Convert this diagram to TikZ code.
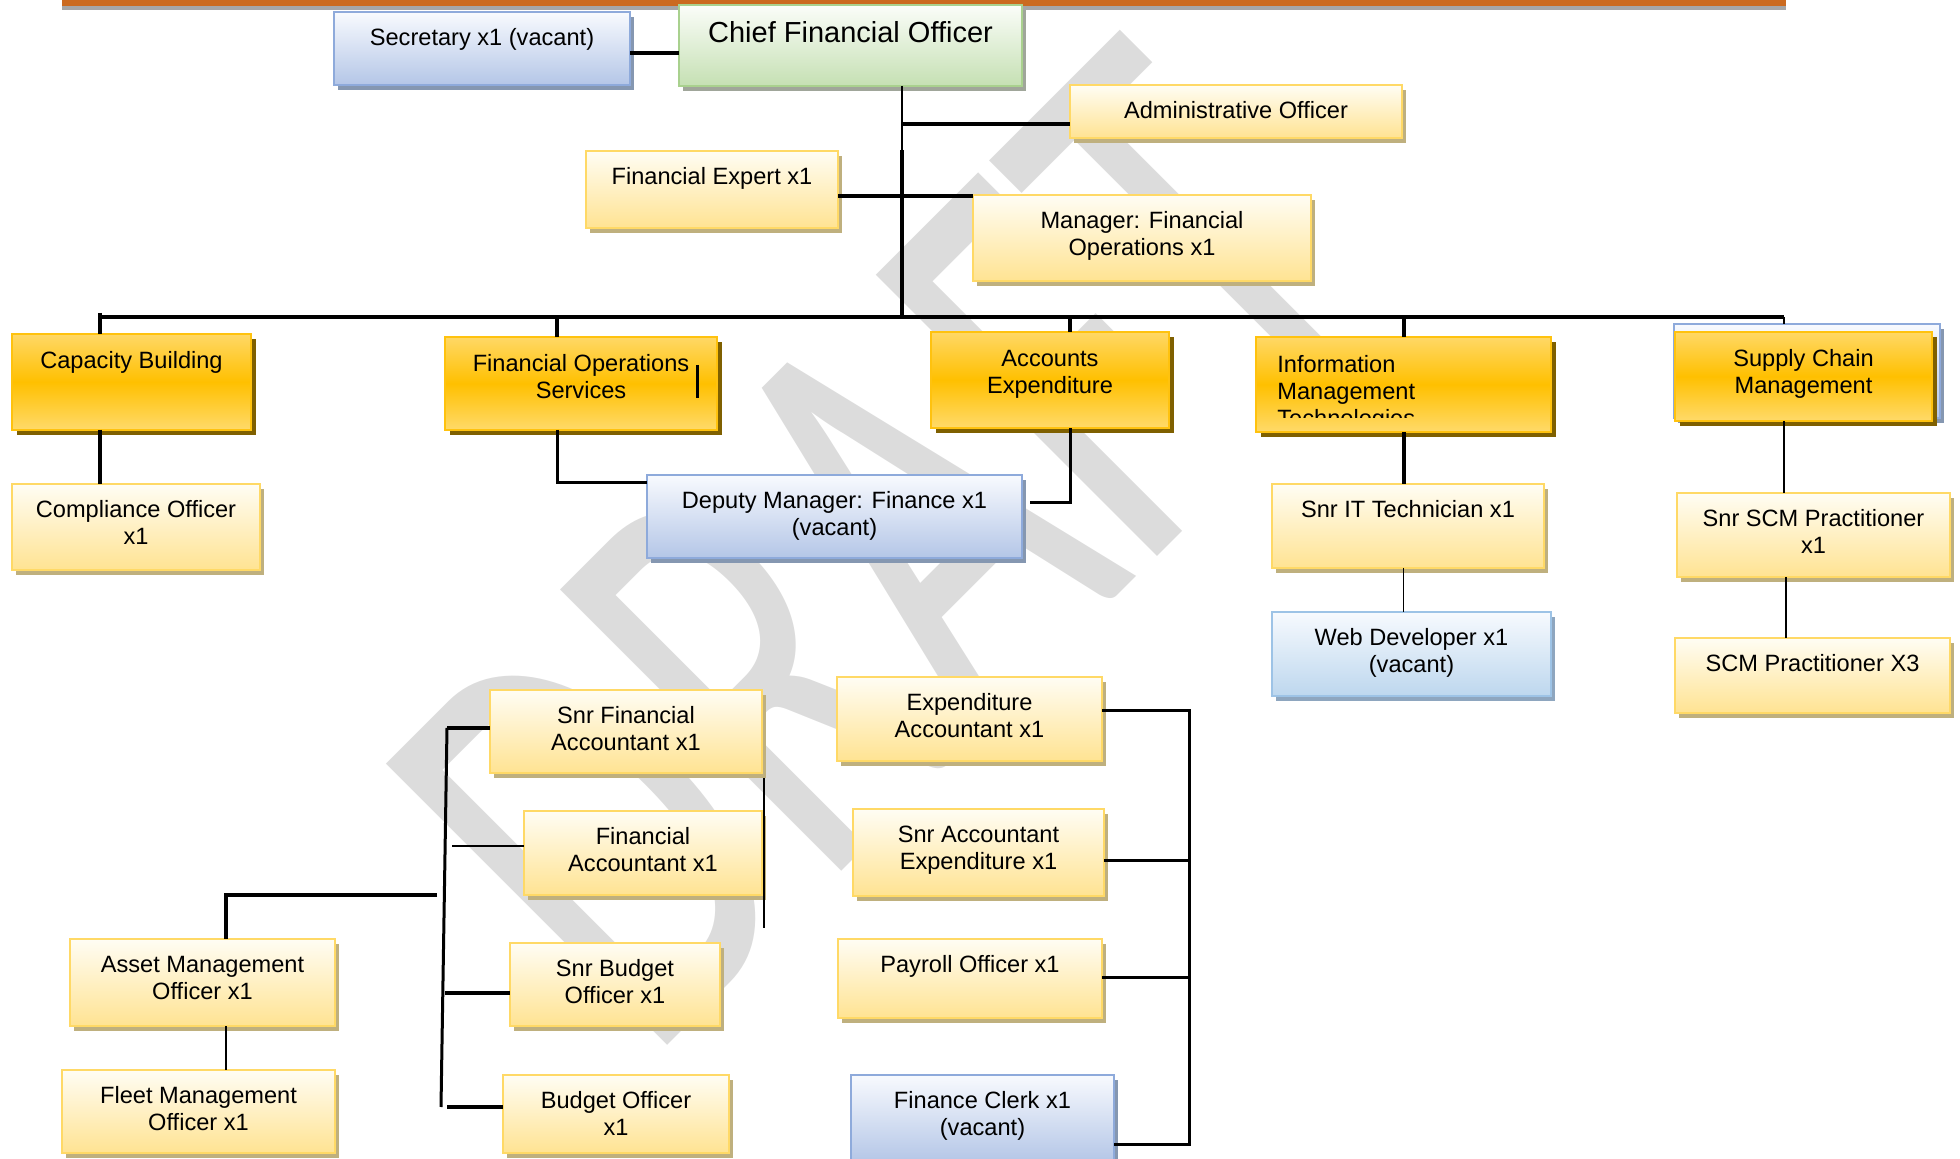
\documentclass[tikz,border=0pt]{standalone}
\usepackage{fontspec}
\usepackage{graphicx}
\setmainfont{Liberation Sans}
\newfontfamily\wmfont{Carlito}
\usetikzlibrary{shadows}
\definecolor{ytop}{HTML}{FFFDF4}
\definecolor{ybot}{HTML}{FFE392}
\definecolor{ybord}{HTML}{FFD966}
\definecolor{yshad}{HTML}{BFB07E}
\definecolor{dtop}{HTML}{FFD866}
\definecolor{dmid}{HTML}{FFC000}
\definecolor{dbot}{HTML}{FFDA6A}
\definecolor{dbord}{HTML}{FFC20E}
\definecolor{dshad}{HTML}{7F6000}
\definecolor{btop}{HTML}{F8FAFE}
\definecolor{bbot}{HTML}{B4C6E7}
\definecolor{bbord}{HTML}{8EAADB}
\definecolor{bshad}{HTML}{8597B1}
\definecolor{lbtop}{HTML}{F7FAFE}
\definecolor{lbbot}{HTML}{BDD7EE}
\definecolor{lbbord}{HTML}{9DC3E6}
\definecolor{lbshad}{HTML}{8EA6BF}
\definecolor{gtop}{HTML}{FBFDF9}
\definecolor{gbot}{HTML}{C5E0B3}
\definecolor{gbord}{HTML}{A9D18E}
\definecolor{gshad}{HTML}{A0A69A}
\definecolor{obar}{HTML}{CB6A1F}
\definecolor{gbar}{HTML}{A6A6A6}
\definecolor{wmgray}{HTML}{DCDCDC}
\def\tgap{16.75pt}
\newcommand\orgbox[7]{%
  \node[#1] (#2) at (#3,#4)
  {\parbox[c][\dimexpr\numexpr#6-#4\relax pt/2\relax][t]{\dimexpr\numexpr#5-#3\relax pt/2\relax}{\centering\rule{0pt}{\tgap}#7\par}};}
\tikzset{
  tgap/.code={\def\tgap{#1}},
  box/.style={draw, line width=1.1pt, inner sep=0pt, outer sep=0pt, anchor=north west,
    font=\fontsize{11.8}{13.6}\selectfont, tgap=16.75pt},
  ybox/.style={box, draw=ybord, top color=ytop, bottom color=ybot,
    drop shadow={shadow xshift=2pt, shadow yshift=-2.5pt, fill=yshad, opacity=1}},
  bbox/.style={box, draw=bbord, top color=btop, bottom color=bbot,
    drop shadow={shadow xshift=2pt, shadow yshift=-2.5pt, fill=bshad, opacity=1}},
  lbbox/.style={box, draw=lbbord, top color=lbtop, bottom color=lbbot,
    drop shadow={shadow xshift=2pt, shadow yshift=-2.5pt, fill=lbshad, opacity=1}},
  gbox/.style={box, draw=gbord, top color=gtop, bottom color=gbot,
    font=\fontsize{14.5}{17}\selectfont, tgap=19pt,
    drop shadow={shadow xshift=2pt, shadow yshift=-2.5pt, fill=gshad, opacity=1}},
  dept/.style={box, draw=dbord, top color=dtop, bottom color=dbot, middle color=dmid,
    font=\fontsize{11.8}{13.5}\selectfont, tgap=17.5pt,
    drop shadow={shadow xshift=2.5pt, shadow yshift=-2.5pt, fill=dshad, opacity=1}},
  thickln/.style={line width=2pt},
  medln/.style={line width=1.5pt},
  thinln/.style={line width=0.8pt},
}
\begin{document}
\begin{tikzpicture}[x=0.5pt, y=-0.5pt]
\useasboundingbox (0,0) rectangle (1960,1159);
% watermark
\node[rotate=45, inner sep=0pt, text=wmgray, font=\wmfont\fontsize{310}{310}\selectfont] (wm) at (886,546) {\scalebox{0.643}[1]{DRAFT}};
% top bar
\fill[obar] (62,0) rectangle (1786,6);
\fill[gbar] (62,6) rectangle (1786,10);
% boxes
\orgbox{bbox}{sec}{334}{12}{630}{85}{Secretary x1 (vacant)}
\orgbox{gbox}{cfo}{679}{5}{1022}{86}{Chief Financial Officer}
\orgbox{ybox}{adm}{1070}{85}{1402}{138}{Administrative Officer}
\orgbox{ybox}{fexp}{586}{151}{838}{228}{Financial Expert x1}
\orgbox{ybox}{mgr}{973}{195}{1311}{281}{Manager: Financial\\Operations x1}
\orgbox{dept}{cap}{12}{334}{251}{430}{Capacity Building}
\orgbox{dept}{fos}{445}{337}{717}{430}{Financial Operations\\Services}
\orgbox{dept}{acc}{931}{332}{1169}{428}{Accounts\\Expenditure}
\orgbox{dept}{imt}{1256}{337}{1551}{432}{}
\orgbox{bbox}{scmback}{1674}{324}{1940}{418}{}
\orgbox{dept}{scm}{1675}{332}{1932}{421}{Supply Chain\\Management}
\orgbox{ybox}{comp}{12}{484}{260}{570}{Compliance Officer\\x1}
\orgbox{bbox}{dep}{647}{475}{1022}{558}{Deputy Manager: Finance x1\\(vacant)}
\orgbox{ybox}{snrit}{1272}{484}{1544}{568}{Snr IT Technician x1}
\orgbox{lbbox}{web}{1272}{612}{1551}{696}{Web Developer x1\\(vacant)}
\orgbox{ybox}{snrscm}{1677}{493}{1950}{577}{Snr SCM Practitioner\\x1}
\orgbox{ybox}{scmp}{1675}{638}{1950}{713}{SCM Practitioner X3}
\orgbox{ybox}{sfa}{490}{690}{762}{773}{Snr Financial\\Accountant x1}
\orgbox{ybox}{fa}{524}{811}{762}{895}{Financial\\Accountant x1}
\orgbox{ybox}{asset}{70}{939}{335}{1026}{Asset Management\\Officer x1}
\orgbox{ybox}{fleet}{62}{1070}{335}{1153}{Fleet Management\\Officer x1}
\orgbox{ybox}{sbo}{510}{943}{720}{1026}{Snr Budget\\Officer x1}
\orgbox{ybox}{bo}{503}{1075}{729}{1153}{Budget Officer\\x1}
\orgbox{ybox}{expa}{837}{677}{1102}{761}{Expenditure\\Accountant x1}
\orgbox{ybox}{sae}{853}{809}{1104}{896}{Snr Accountant\\Expenditure x1}
\orgbox{ybox}{pay}{838}{939}{1102}{1018}{Payroll Officer x1}
\orgbox{bbox}{clerk}{851}{1075}{1114}{1162}{Finance Clerk x1\\(vacant)}
% clipped IMT text
\begin{scope}
\clip (1256,337) rectangle (1551,418);
\node[anchor=north west, inner sep=0pt, font=\fontsize{11.8}{13.5}\selectfont] (imttext) at (1277,337)
  {\parbox[t]{140pt}{\raggedright\rule{0pt}{17.5pt}Information\\Management\\Technologies}};
\end{scope}
% junction coordinates
\coordinate (cfoJ) at (902,150);
\coordinate (admJ) at (902,124);
\coordinate (fJ) at (902,196);
\coordinate (busC) at (902,317);
\coordinate (busL) at (100,317);
\coordinate (busR) at (1784,317);
\coordinate (fosJ) at (557,317);
\coordinate (accJ) at (1070,317);
\coordinate (depJ) at (557,483);
\coordinate (accJ2) at (1070,503);
\coordinate (spT) at (447,728);
\coordinate (spB) at (441,1107);
\coordinate (faJ) at (452,846);
\coordinate (sboJ) at (445,993);
\coordinate (boJ) at (447,1107);
\coordinate (rvT) at (764,778);
\coordinate (rvB) at (764,928);
\coordinate (asJ) at (437,895);
\coordinate (asK) at (226,895);
\coordinate (brT) at (1189,711);
\coordinate (brS) at (1189,861);
\coordinate (brP) at (1189,977);
\coordinate (brB) at (1189,1144);
\coordinate (secJ) at (0,53);
\coordinate (fosMark) at (697,365);
% connectors top
\draw[thickln] (sec.east |- secJ) -- (cfo.west |- secJ);
\draw[thinln] (cfo.south -| cfoJ) -- (cfoJ);
\draw[thickln] (cfoJ) -- (busC);
\draw[thickln] (admJ) -- (admJ -| adm.west);
\draw[thickln] (fJ -| fexp.east) -- (fJ -| mgr.west);
\draw[thickln] (busL) -- (busR);
\draw[thickln] ([yshift=2pt]busL) -- (busL |- cap.north);
\draw[thickln] (fosJ) -- (fosJ |- fos.north);
\draw[thickln] (accJ) -- (accJ |- acc.north);
\draw[thickln] (imt.north |- busL) -- (imt.north);
\draw[thinln] (busR) -- (busR |- scmback.north);
% second level
\draw[thickln] (busL |- cap.south) -- (busL |- comp.north);
\draw[medln] (fosJ |- fos.south) -- (depJ) -- (depJ -| dep.west);
\draw[medln] ([xshift=4pt]accJ2 -| dep.east) -- (accJ2) -- (accJ2 |- acc.south);
\draw[medln] (fosMark) -- ++(0,33);
\draw[thickln] (imt.south) -- (imt.south |- snrit.north);
\draw[thinln] (imt.south |- snrit.south) -- (imt.south |- web.north);
\draw[thinln] (busR |- scm.south) -- (busR |- snrscm.north);
\draw[thinln] ([xshift=1pt]busR |- snrscm.south) -- ([xshift=1pt]busR |- scmp.north);
% lower left group
\draw[medln] (spT) -- (spB);
\draw[thickln] (spT) -- (spT -| sfa.west);
\draw[thinln] (faJ) -- (faJ -| fa.west);
\draw[thickln] (sboJ) -- (sboJ -| sbo.west);
\draw[thickln] (boJ) -- (boJ -| bo.west);
\draw[thinln] (rvT) -- (rvB);
\draw[thickln] (asJ) -- (asK) -- (asK |- asset.north);
\draw[thinln] (asK |- asset.south) -- (asK |- fleet.north);
% expenditure bracket
\draw[medln] (brT -| expa.east) -- (brT) -- (brB) -- (brB -| clerk.east);
\draw[medln] (brS -| sae.east) -- (brS);
\draw[medln] (brP -| pay.east) -- (brP);
\end{tikzpicture}
\end{document}
